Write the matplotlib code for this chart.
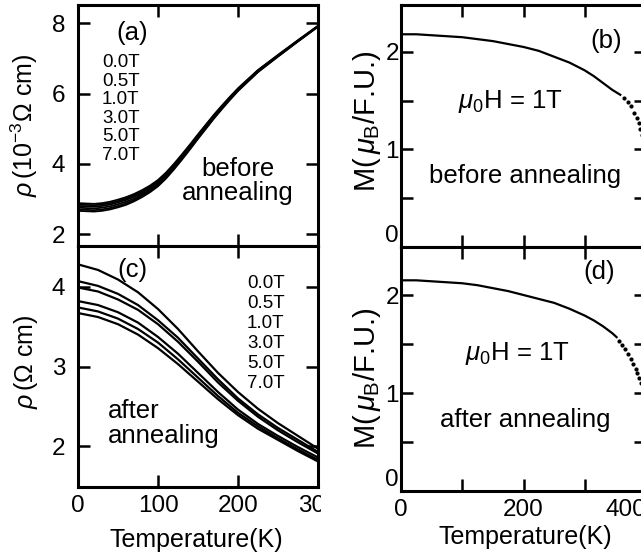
import matplotlib.pyplot as plt
from matplotlib.patches import Rectangle

plt.rcParams['font.family'] = ['Liberation Sans', 'DejaVu Sans']
plt.rcParams['mathtext.fontset'] = 'custom'
plt.rcParams['mathtext.rm'] = 'Liberation Sans'
plt.rcParams['mathtext.it'] = 'Liberation Sans:italic'
plt.rcParams['mathtext.bf'] = 'Liberation Sans:bold'

FS_TICK = 17.5
FS_LABEL = 18
FS_TEXT = 18.5
FS_FIELD = 13.5

fields = ["0.0T", "0.5T", "1.0T", "3.0T", "5.0T", "7.0T"]

# (a) resistivity before annealing (10^-3 Ohm cm)
temp_a = [0, 10, 20, 30, 40, 50, 60, 70, 80, 90, 100, 110, 120, 130, 140, 150,
          160, 170, 180, 190, 200, 225, 250, 275, 300]
rho_a_00 = [2.88, 2.87, 2.86, 2.88, 2.92, 2.98, 3.05, 3.14, 3.25, 3.38, 3.54, 3.75, 4.00,
            4.27, 4.55, 4.84, 5.12, 5.40, 5.66, 5.91, 6.15, 6.67, 7.10, 7.52, 7.93]
rho_a_05 = [2.84, 2.83, 2.82, 2.84, 2.88, 2.94, 3.01, 3.10, 3.21, 3.34, 3.50, 3.72, 3.97,
            4.24, 4.52, 4.81, 5.10, 5.38, 5.64, 5.89, 6.13, 6.66, 7.09, 7.51, 7.92]
rho_a_10 = [2.80, 2.79, 2.78, 2.80, 2.84, 2.90, 2.97, 3.06, 3.17, 3.31, 3.47, 3.69, 3.94,
            4.22, 4.50, 4.79, 5.07, 5.36, 5.62, 5.88, 6.12, 6.65, 7.08, 7.50, 7.92]
rho_a_30 = [2.75, 2.74, 2.73, 2.75, 2.79, 2.85, 2.92, 3.01, 3.13, 3.27, 3.43, 3.65, 3.90,
            4.18, 4.47, 4.76, 5.05, 5.33, 5.60, 5.86, 6.10, 6.63, 7.07, 7.50, 7.91]
rho_a_50 = [2.70, 2.69, 2.68, 2.70, 2.74, 2.80, 2.87, 2.97, 3.09, 3.23, 3.40, 3.61, 3.87,
            4.15, 4.44, 4.74, 5.02, 5.31, 5.58, 5.84, 6.09, 6.62, 7.06, 7.49, 7.91]
rho_a_70 = [2.66, 2.65, 2.64, 2.66, 2.70, 2.76, 2.83, 2.93, 3.05, 3.19, 3.36, 3.58, 3.84,
            4.12, 4.41, 4.71, 5.00, 5.29, 5.56, 5.82, 6.07, 6.61, 7.05, 7.48, 7.90]

# (c) resistivity after annealing (Ohm cm)
temp_c = [0, 25, 50, 75, 100, 125, 150, 175, 200, 225, 250, 275, 300]
rho_c_00 = [4.28, 4.21, 4.09, 3.93, 3.72, 3.47, 3.19, 2.92, 2.68, 2.47, 2.29, 2.13, 1.97]
rho_c_05 = [4.07, 4.01, 3.91, 3.77, 3.58, 3.36, 3.10, 2.84, 2.60, 2.40, 2.23, 2.08, 1.93]
rho_c_10 = [3.99, 3.94, 3.84, 3.71, 3.53, 3.31, 3.06, 2.80, 2.57, 2.37, 2.20, 2.05, 1.91]
rho_c_30 = [3.82, 3.77, 3.68, 3.55, 3.37, 3.16, 2.92, 2.68, 2.46, 2.28, 2.13, 1.99, 1.86]
rho_c_50 = [3.74, 3.69, 3.60, 3.47, 3.30, 3.09, 2.86, 2.63, 2.42, 2.25, 2.10, 1.96, 1.83]
rho_c_70 = [3.67, 3.62, 3.53, 3.40, 3.23, 3.03, 2.81, 2.59, 2.39, 2.22, 2.08, 1.94, 1.81]

# (b) magnetization before annealing, mu0H = 1T
temp_b = [0, 25, 50, 75, 100, 125, 150, 175, 200, 225, 250, 275, 300, 315, 330, 345, 358]
mag_b = [2.18, 2.18, 2.17, 2.16, 2.15, 2.13, 2.11, 2.08, 2.05, 2.01, 1.95, 1.89, 1.81,
         1.75, 1.68, 1.61, 1.56]
temp_b_pts = [364, 370, 376, 381, 386, 389, 391, 394]
mag_b_pts = [1.53, 1.49, 1.44, 1.37, 1.32, 1.27, 1.21, 1.15]

# (d) magnetization after annealing, mu0H = 1T
temp_d = [0, 25, 50, 75, 100, 125, 150, 175, 200, 225, 250, 275, 300, 315, 330, 345, 352]
mag_d = [2.15, 2.15, 2.14, 2.13, 2.12, 2.10, 2.07, 2.04, 2.00, 1.96, 1.92, 1.86, 1.79,
         1.74, 1.68, 1.61, 1.57]
temp_d_pts = [356, 361, 366, 371, 375, 379, 383, 386, 389, 392]
mag_d_pts = [1.53, 1.49, 1.45, 1.40, 1.35, 1.30, 1.25, 1.20, 1.15, 1.10]

W, H = 641, 555
fig = plt.figure(figsize=(W / 100, H / 100), dpi=100)


def px_axes(x0, y0, x1, y1, z):
    return fig.add_axes([x0 / W, 1 - y1 / H, (x1 - x0) / W, (y1 - y0) / H], zorder=z)


def style(ax, ypad):
    for s in ax.spines.values():
        s.set_linewidth(2.2)
    ax.tick_params(direction='in', top=True, right=True, length=8.6, width=1.8,
                   labelsize=FS_TICK)
    ax.tick_params(axis='y', pad=ypad)
    ax.tick_params(axis='x', pad=6)


ax_a = px_axes(78, 5, 318, 246, 1)
ax_c = px_axes(78, 246, 318, 487, 1)
ax_b = px_axes(401, 5, 646, 247, 3)
ax_d = px_axes(401, 247, 646, 491, 3)

# the right half of the original was pasted over the left one
fig.add_artist(Rectangle((321 / W, 0), 1, 1, transform=fig.transFigure,
                         facecolor='white', edgecolor='none', zorder=2))

for rho in [rho_a_00, rho_a_05, rho_a_10, rho_a_30, rho_a_50, rho_a_70]:
    ax_a.plot(temp_a, rho, color='black', lw=1.3)
for rho in [rho_c_00, rho_c_05, rho_c_10, rho_c_30, rho_c_50, rho_c_70]:
    ax_c.plot(temp_c, rho, color='black', lw=1.6)

ax_b.plot(temp_b, mag_b, color='black', lw=1.6)
ax_b.plot(temp_b_pts, mag_b_pts, 'o', color='black', ms=2.0)
ax_d.plot(temp_d, mag_d, color='black', lw=1.6)
ax_d.plot(temp_d_pts, mag_d_pts, 'o', color='black', ms=2.0)

for ax in (ax_a, ax_c):
    style(ax, 9)
    ax.set_xlim(0, 300)
    ax.set_xticks([0, 100, 200, 300])
ax_a.tick_params(axis='x', labelbottom=False)
ax_a.set_ylim(1.66, 8.52)
ax_a.set_yticks([2, 4, 6, 8])
ax_c.set_ylim(1.49, 4.51)
ax_c.set_yticks([2, 3, 4])

for ax, ylim in ((ax_b, (0, 2.48)), (ax_d, (0, 2.49))):
    style(ax, 1.5)
    ax.set_xlim(0, 400)
    ax.set_xticks([0, 100, 200, 300, 400])
    ax.set_xticklabels(['0', '', '200', '', '400'])
    ax.set_ylim(*ylim)
    ax.set_yticks([0, 0.5, 1, 1.5, 2])
    ax.set_yticklabels(['0', '', '1', '', '2'])
    ax.get_yticklabels()[0].set_va('bottom')
ax_b.tick_params(axis='x', labelbottom=False)
ax_d.get_xticklabels()[-1].set_ha('right')

ax_a.set_ylabel('$\\rho\\,$(10$^{-3}$Ω cm)', fontsize=FS_LABEL)
ax_a.yaxis.set_label_coords(-0.16, 0.5)
ax_c.set_ylabel('$\\rho\\,$(Ω cm)', fontsize=FS_LABEL)
ax_c.yaxis.set_label_coords(-0.16, 0.52)
ax_c.set_xlabel('Temperature(K)', fontsize=FS_LABEL)
ax_c.xaxis.set_label_coords(0.495, -0.17)

for ax, ly in ((ax_b, 0.52), (ax_d, 0.46)):
    ax.set_ylabel('M($\\,\\mu_{\\mathrm{B}}$/F.U.)', fontsize=21)
    ax.yaxis.set_label_coords(-0.075, ly)
ax_d.set_xlabel('Temperature(K)', fontsize=FS_LABEL)
ax_d.xaxis.set_label_coords(0.506, -0.14)

ax_a.text(0.225, 0.884, '(a)', transform=ax_a.transAxes, fontsize=FS_TEXT,
          ha='center', va='center')
for i, f in enumerate(fields):
    ax_a.text(0.10, 0.743 - i * 0.0772, f, transform=ax_a.transAxes,
              fontsize=FS_FIELD, ha='left', va='baseline')
ax_a.text(0.667, 0.29, 'before', transform=ax_a.transAxes, fontsize=FS_TEXT,
          ha='center', va='baseline')
ax_a.text(0.667, 0.19, 'annealing', transform=ax_a.transAxes, fontsize=FS_TEXT,
          ha='center', va='baseline')

ax_c.text(0.225, 0.90, '(c)', transform=ax_c.transAxes, fontsize=FS_TEXT,
          ha='center', va='center')
for i, f in enumerate(fields):
    ax_c.text(0.704, 0.826 - i * 0.083, f, transform=ax_c.transAxes,
              fontsize=FS_FIELD, ha='left', va='baseline')
ax_c.text(0.125, 0.286, 'after', transform=ax_c.transAxes, fontsize=FS_TEXT,
          ha='left', va='baseline')
ax_c.text(0.125, 0.183, 'annealing', transform=ax_c.transAxes, fontsize=FS_TEXT,
          ha='left', va='baseline')

ax_b.text(0.837, 0.851, '(b)', transform=ax_b.transAxes, fontsize=FS_TEXT,
          ha='center', va='center')
ax_b.text(0.445, 0.60, '$\\mu_{\\mathrm{0}}$H = 1T', transform=ax_b.transAxes,
          fontsize=FS_TEXT, ha='center', va='center')
ax_b.text(0.506, 0.293, 'before annealing', transform=ax_b.transAxes,
          fontsize=FS_TEXT, ha='center', va='center')

ax_d.text(0.81, 0.898, '(d)', transform=ax_d.transAxes, fontsize=FS_TEXT,
          ha='center', va='center')
ax_d.text(0.475, 0.565, '$\\mu_{\\mathrm{0}}$H = 1T', transform=ax_d.transAxes,
          fontsize=FS_TEXT, ha='center', va='center')
ax_d.text(0.506, 0.29, 'after annealing', transform=ax_d.transAxes,
          fontsize=FS_TEXT, ha='center', va='center')

fig.savefig('out.png', dpi=100)
